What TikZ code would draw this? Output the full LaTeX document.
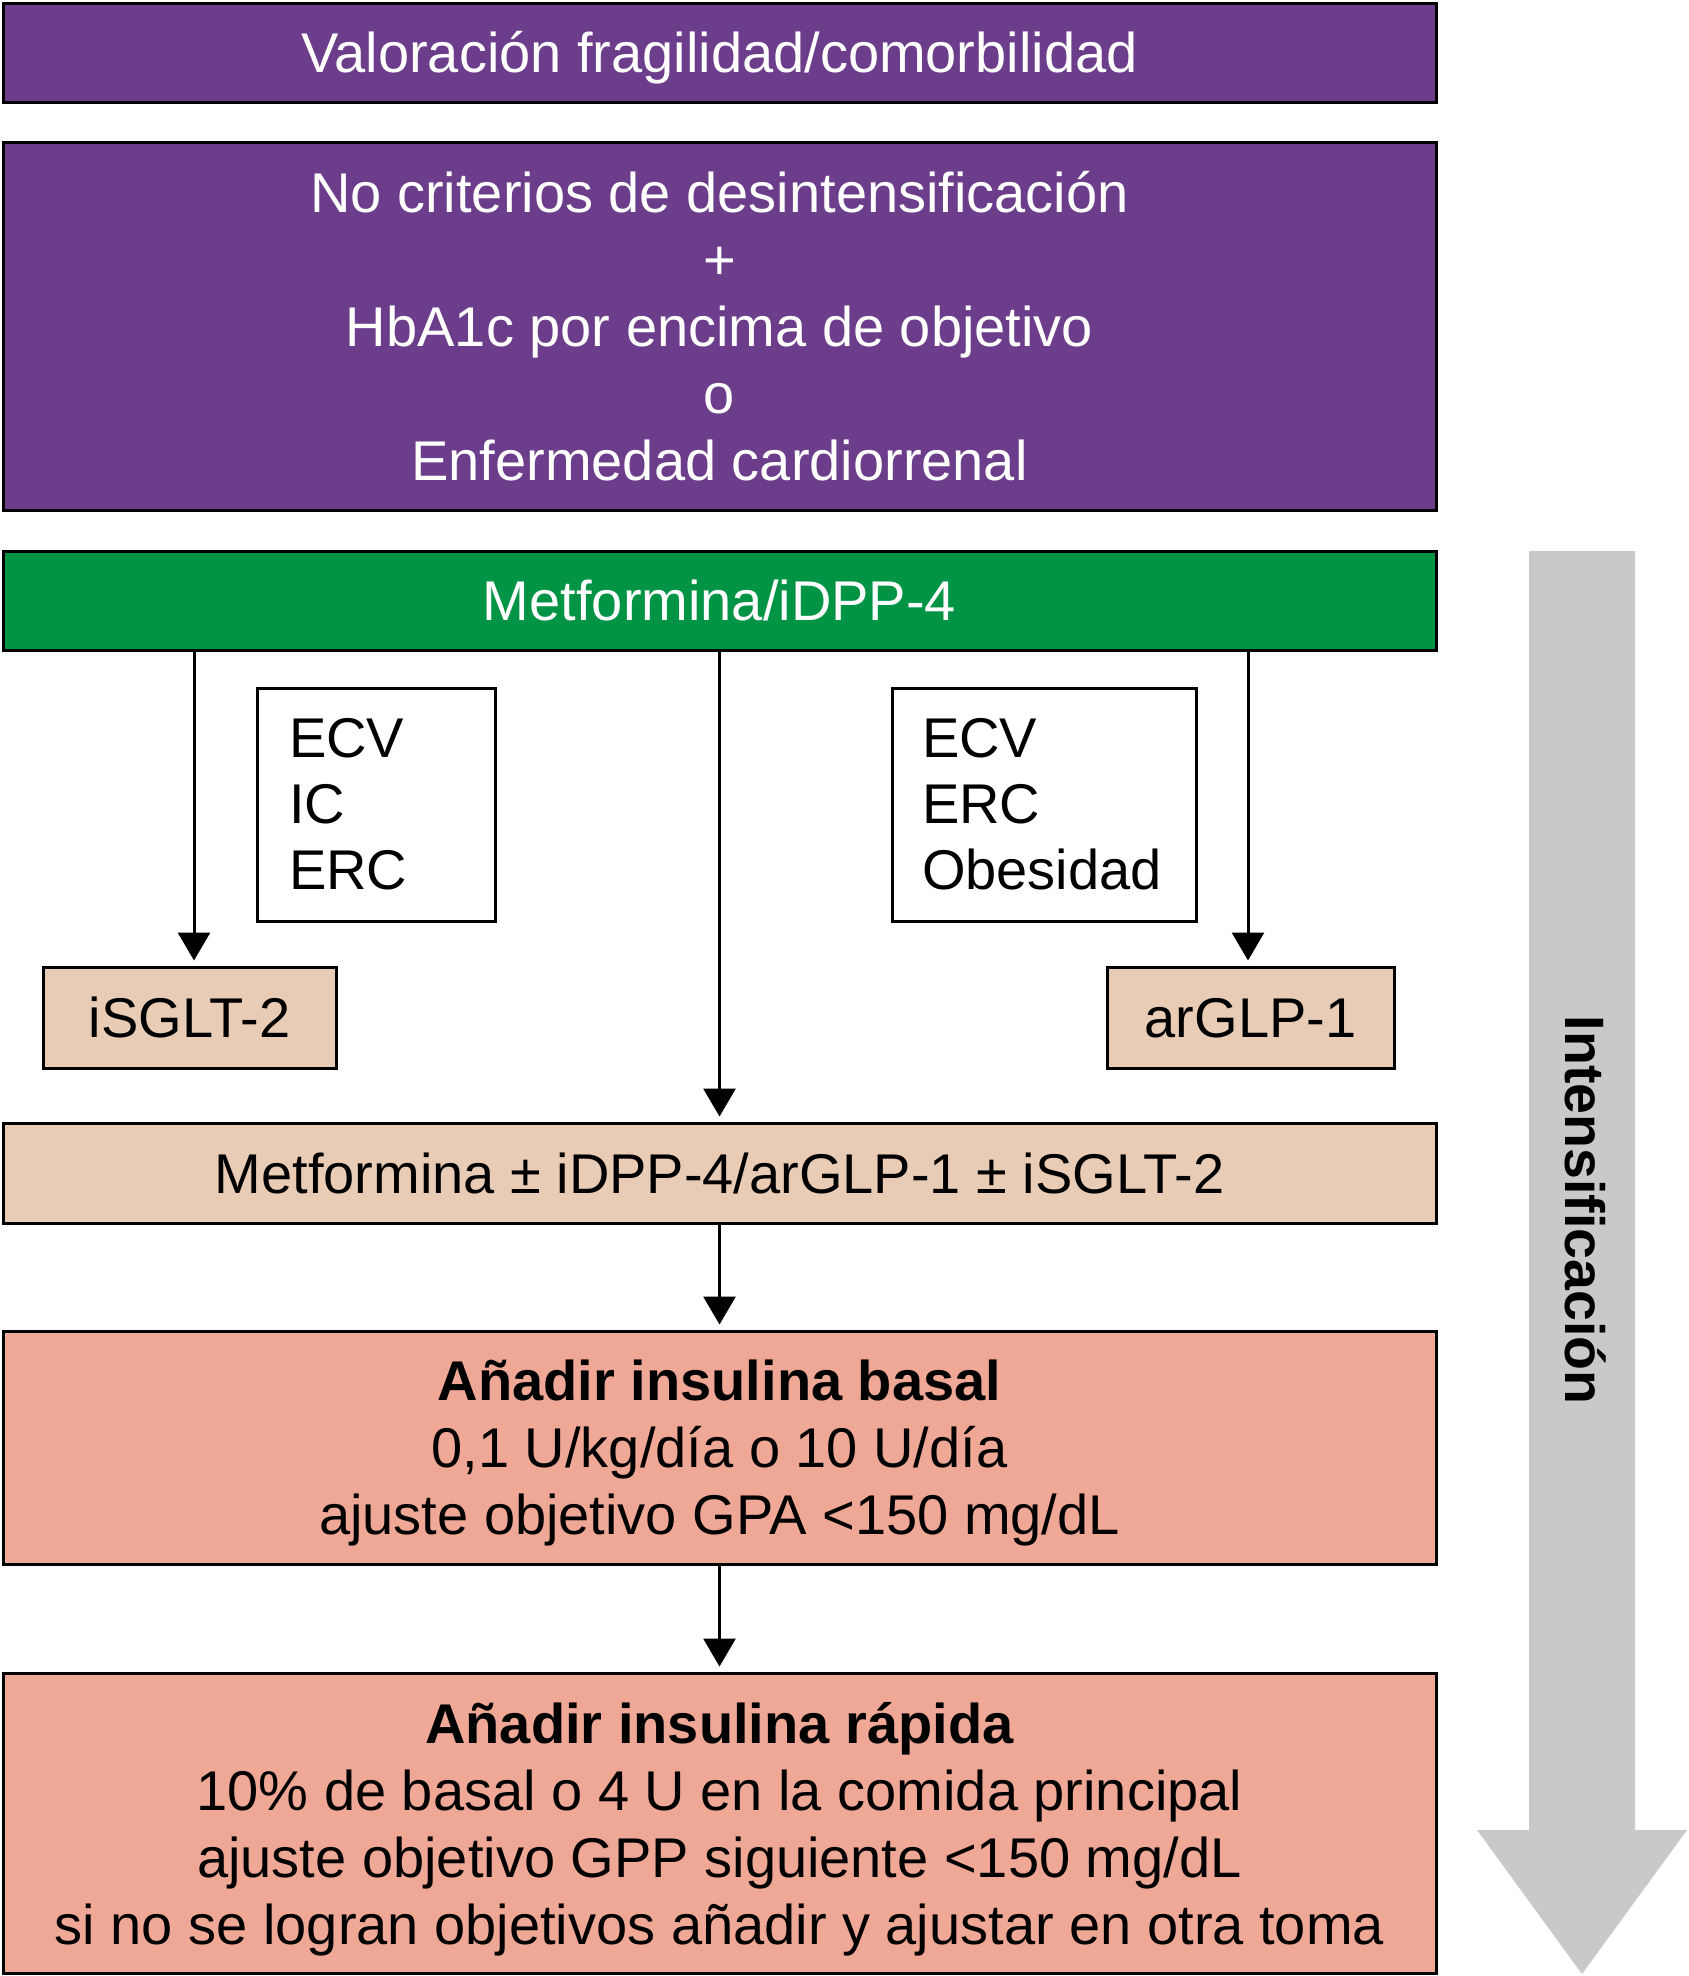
\documentclass[tikz,border=0pt]{standalone}
\usepackage{fontspec}
\setmainfont{Liberation Sans}
\usetikzlibrary{arrows.meta}
\definecolor{purpbox}{RGB}{107,61,138}
\definecolor{grnbox}{RGB}{0,148,68}
\definecolor{tanbox}{RGB}{232,204,182}
\definecolor{salmbox}{RGB}{239,167,150}
\definecolor{grayarrow}{RGB}{200,201,203}
\begin{document}
\begin{tikzpicture}[x=1pt,y=-1pt,
  box/.style={draw=black, line width=3pt, inner sep=0pt, align=center,
    font=\fontsize{56}{67}\selectfont},
  oneline/.style={text height=40pt, text depth=0pt},
  listbox/.style={draw=black, line width=3pt, inner ysep=0pt, align=left,
    font=\fontsize{56}{66}\selectfont},
  arr/.style={line width=3pt, -{Triangle[width=32pt,length=28pt]}, shorten >=5pt}]
\useasboundingbox (0,0) rectangle (1689,1976);
% gray intensification arrow
\fill[grayarrow] (1529,551) -- (1635,551) -- (1635,1830) -- (1687,1830) -- (1582,1974)
  -- (1477,1830) -- (1529,1830) -- cycle;
\node[rotate=-90, anchor=base, font=\bfseries\fontsize{55.5}{67}\selectfont] (intens) at (1565,1210) {Intensificación};
% boxes
\node[box, oneline, fill=purpbox, text=white, minimum width=1433pt, minimum height=99pt] (val) at (719.5,52.5)
  {Valoración fragilidad/comorbilidad};
\node[box, fill=purpbox, text=white, minimum width=1433pt, minimum height=368pt] (crit) at (719.5,326)
  {No criterios de desintensificación\\+\\HbA1c por encima de objetivo\\o\\Enfermedad cardiorrenal};
\node[box, oneline, fill=grnbox, text=white, minimum width=1433pt, minimum height=99pt] (metf) at (719.5,600.5)
  {Metformina/iDPP-4};
\node[listbox, inner xsep=32pt, text width=174pt, minimum height=233pt] (ecvl) at (376,804.5)
  {ECV\\IC\\ERC};
\node[listbox, inner xsep=30pt, text width=244pt, minimum height=233pt] (ecvr) at (1044,804.5)
  {ECV\\ERC\\Obesidad};
\node[box, oneline, fill=tanbox, minimum width=293pt, minimum height=101pt] (isglt) at (189.5,1017.5) {iSGLT-2};
\node[box, oneline, fill=tanbox, minimum width=287pt, minimum height=101pt] (arglp) at (1250.5,1017.5) {arGLP-1};
\node[box, oneline, fill=tanbox, minimum width=1433pt, minimum height=100pt] (comb) at (719.5,1173)
  {Metformina ± iDPP-4/arGLP-1 ± iSGLT-2};
\node[box, fill=salmbox, minimum width=1433pt, minimum height=233pt] (basal) at (719.5,1447.5)
  {\textbf{Añadir insulina basal}\\0,1 U/kg/día o 10 U/día\\\smash{ajuste objetivo GPA <150 mg/dL}};
\node[box, fill=salmbox, minimum width=1433pt, minimum height=300pt] (rapida) at (719.5,1823)
  {\textbf{Añadir insulina rápida}\\10\% de basal o 4 U en la comida principal\\ajuste objetivo GPP siguiente <150 mg/dL\\\smash{si no se logran objetivos añadir y ajustar en otra toma}};
% connectors
\coordinate (la) at ([xshift=4.5pt]isglt.north);
\coordinate (ra) at ([xshift=-2.5pt]arglp.north);
\draw[arr] (la |- metf.south) -- (la);
\draw[arr] (ra |- metf.south) -- (ra);
\draw[arr] (metf.south) -- (comb.north);
\draw[arr] (comb.south) -- (basal.north);
\draw[arr] (basal.south) -- (rapida.north);
\end{tikzpicture}
\end{document}
